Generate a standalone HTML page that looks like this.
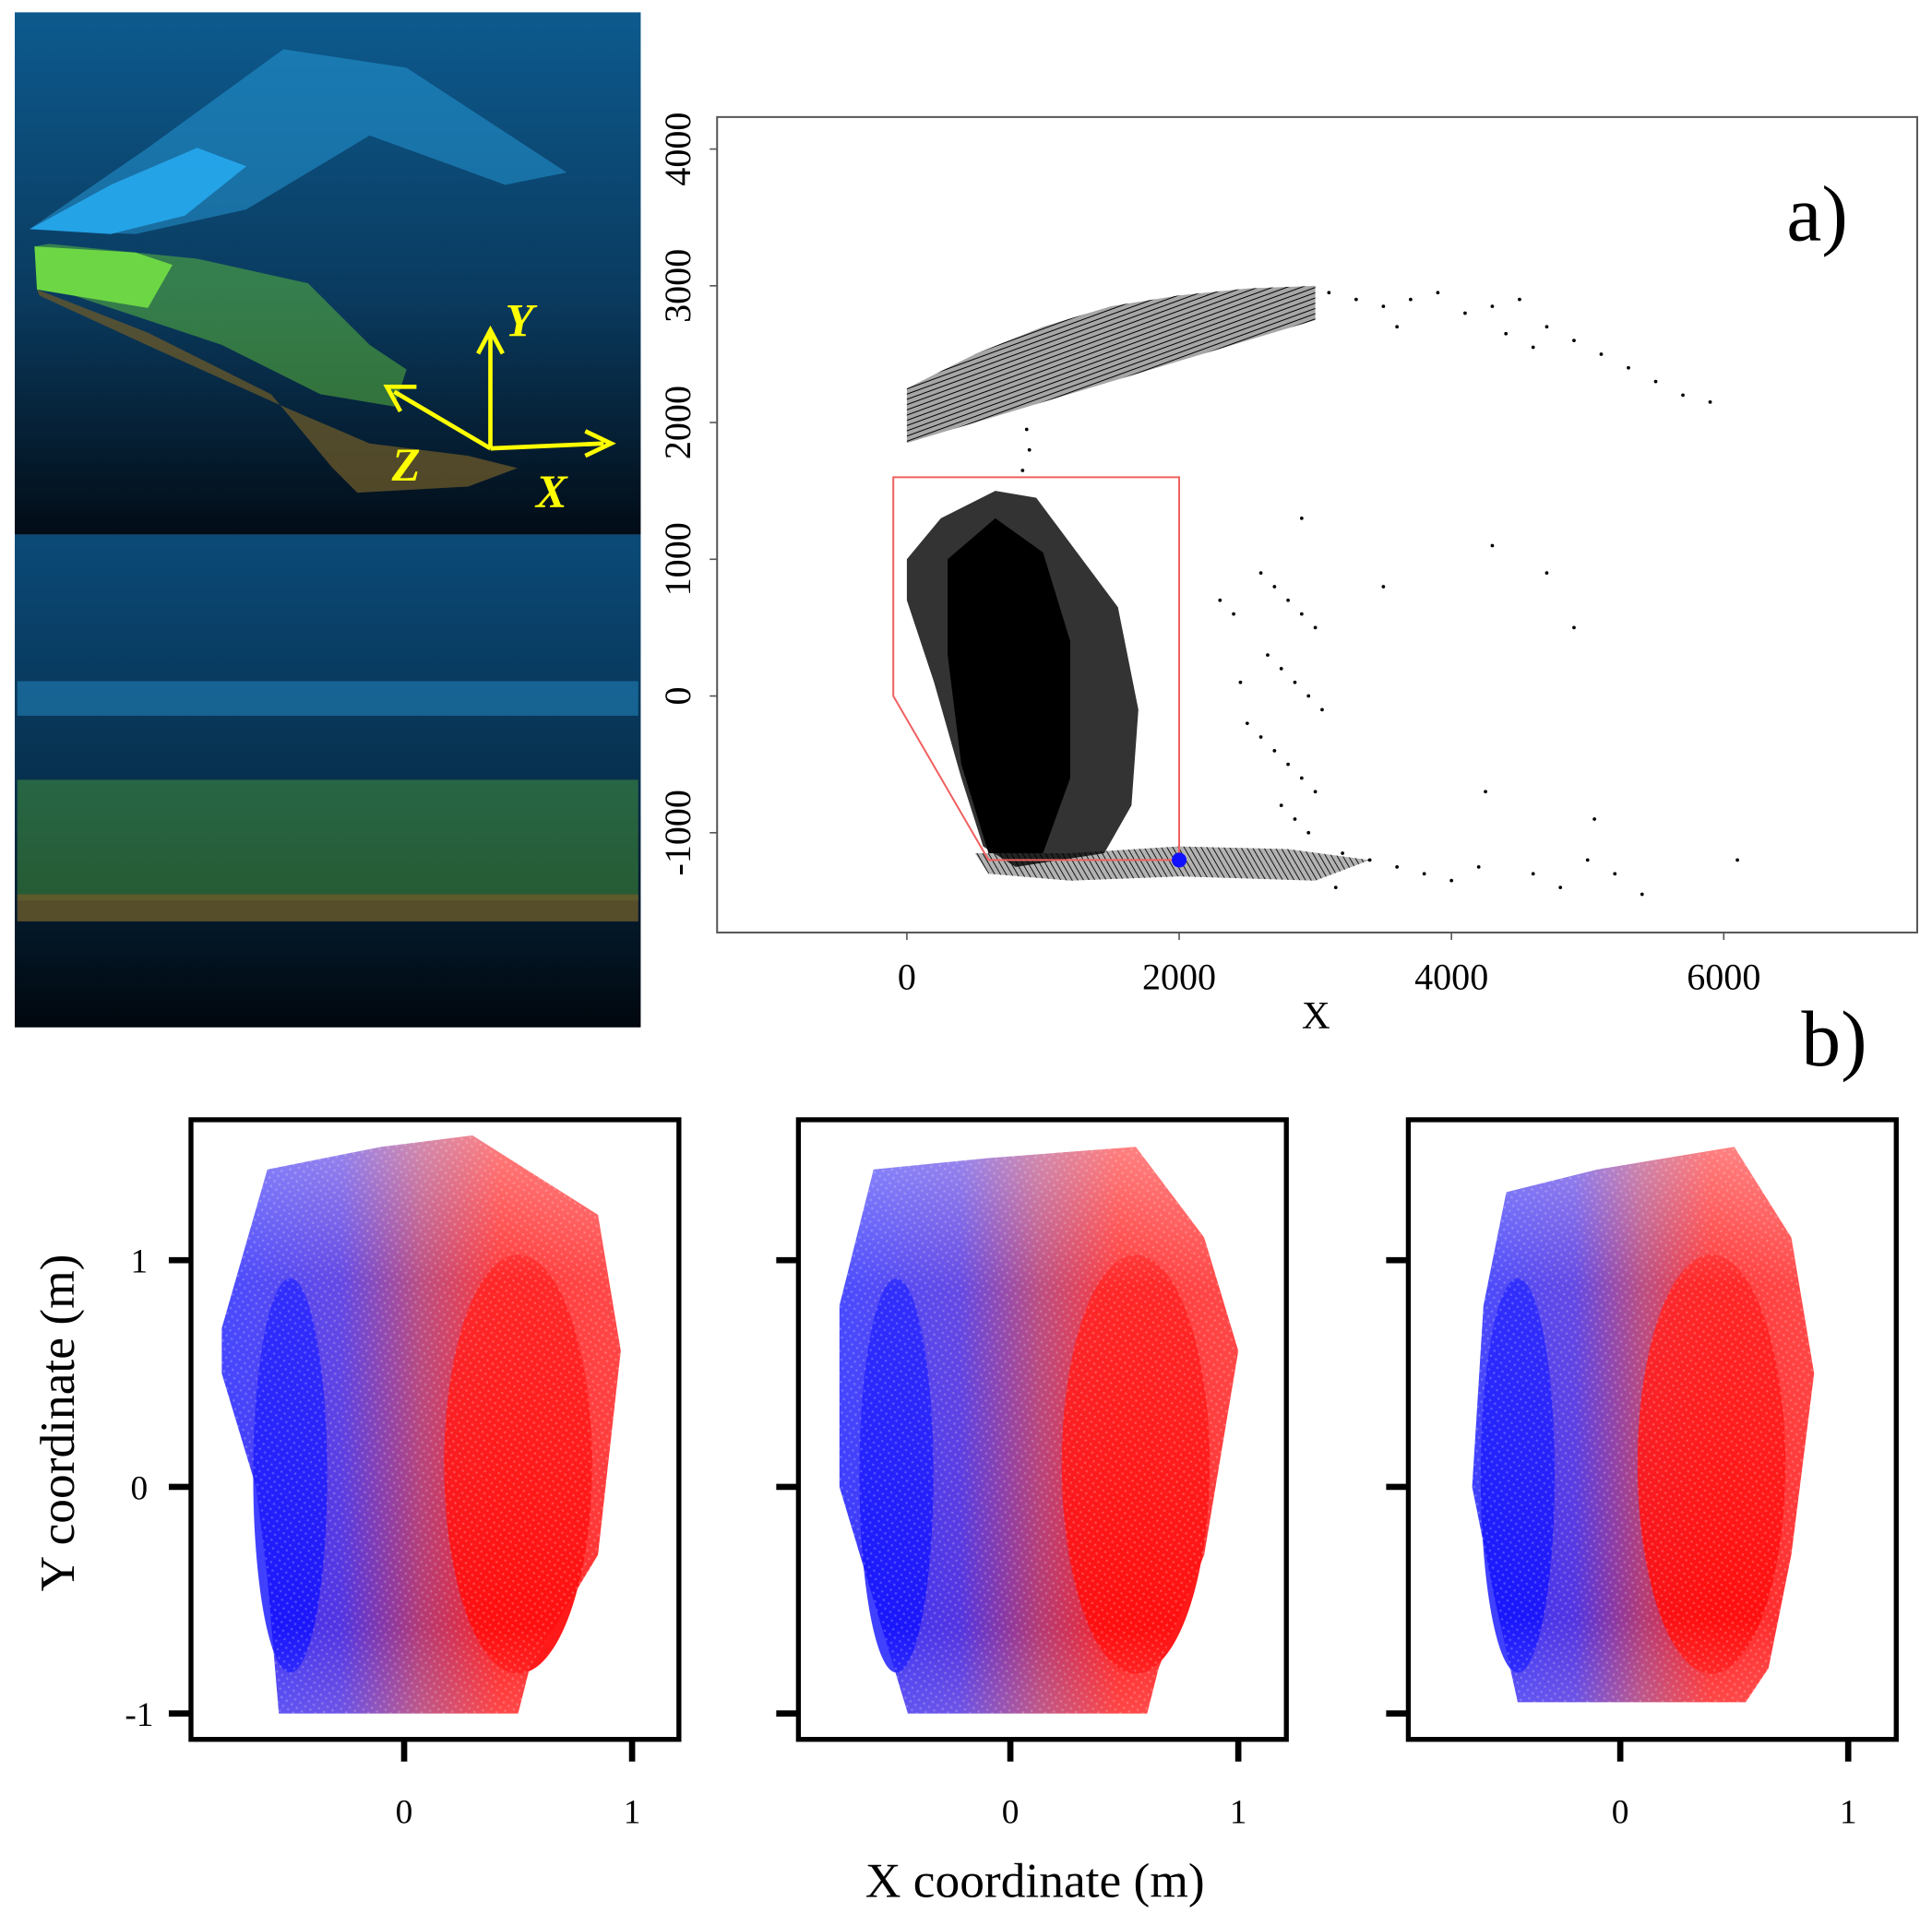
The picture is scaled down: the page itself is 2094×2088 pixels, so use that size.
<!DOCTYPE html>
<html><head><meta charset="utf-8">
<style>
html,body{margin:0;padding:0;background:#fff;}
svg{display:block;}
text{font-family:"Liberation Serif",serif;}
</style></head>
<body>
<svg id="fig" width="2094" height="2088" viewBox="0 0 1568 1563.5" preserveAspectRatio="none" xmlns="http://www.w3.org/2000/svg">
<defs>
  <linearGradient id="bgTop" x1="0" y1="0" x2="0" y2="1">
    <stop offset="0" stop-color="#0d5a8e"/><stop offset="0.55" stop-color="#0a3a5e"/><stop offset="1" stop-color="#020c16"/>
  </linearGradient>
  <linearGradient id="bgBot" x1="0" y1="0" x2="0" y2="1">
    <stop offset="0" stop-color="#0b4a78"/><stop offset="0.5" stop-color="#07304e"/><stop offset="1" stop-color="#01070e"/>
  </linearGradient>
  <linearGradient id="cloudGrad" x1="0" y1="0" x2="1" y2="0">
    <stop offset="0" stop-color="#2a2cff"/><stop offset="0.3" stop-color="#4a2ae0"/>
    <stop offset="0.5" stop-color="#b0306e"/><stop offset="0.7" stop-color="#ff1818"/><stop offset="1" stop-color="#ff2a2a"/>
  </linearGradient>
  <linearGradient id="fadeTop" x1="0" y1="0" x2="0" y2="1">
    <stop offset="0" stop-color="#fff" stop-opacity="0.45"/><stop offset="0.25" stop-color="#fff" stop-opacity="0.15"/>
    <stop offset="0.85" stop-color="#fff" stop-opacity="0.05"/><stop offset="1" stop-color="#fff" stop-opacity="0.2"/>
  </linearGradient>
  <pattern id="dots" width="5" height="5" patternUnits="userSpaceOnUse" patternTransform="rotate(35)">
    <circle cx="2.5" cy="2.5" r="1.0" fill="#fff" fill-opacity="0.22"/>
  </pattern>
  <pattern id="hatch" width="4" height="4" patternUnits="userSpaceOnUse" patternTransform="rotate(70)">
    <line x1="0" y1="0" x2="0" y2="4" stroke="#000" stroke-width="1.5"/>
  </pattern>
  <pattern id="hatchB" width="4" height="4" patternUnits="userSpaceOnUse" patternTransform="rotate(-30)">
    <line x1="0" y1="0" x2="0" y2="4" stroke="#000" stroke-width="1.3"/>
  </pattern>
</defs>

<g>
  <rect x="12" y="10" width="508" height="424" fill="url(#bgTop)"/>
  <polygon points="24,186 120,120 230,40 330,55 460,140 410,150 300,110 200,170 110,190" fill="#2aa7e6" opacity="0.45"/>
  <polygon points="24,186 90,150 160,120 200,135 150,175 90,190" fill="#27a8ee" opacity="0.9"/>
  <polygon points="28,200 40,198 160,210 250,230 300,280 330,300 320,330 260,320 180,280 90,250 30,230" fill="#5fc03a" opacity="0.5"/>
  <polygon points="28,200 110,205 140,215 120,250 30,235" fill="#6dd645"/>
  <polygon points="30,235 120,270 220,320 270,380 290,400 380,395 420,380 380,370 300,360 230,330 130,285 32,240" fill="#6b5a2a" opacity="0.75"/>
  <g stroke="#ffff00" stroke-width="3.5" fill="none">
    <line x1="398" y1="364" x2="398" y2="272"/><polyline points="388,287 398,268 408,287"/>
    <line x1="398" y1="364" x2="490" y2="360"/><polyline points="475,350 496,360 475,370"/>
    <line x1="398" y1="364" x2="320" y2="318"/><polyline points="338,314 314,314 325,334"/>
  </g>
  <text x="410" y="273" font-size="38" font-style="italic" font-weight="bold" fill="#ffff00">Y</text>
  <text x="318" y="390" font-size="38" font-style="italic" font-weight="bold" fill="#ffff00">Z</text>
  <text x="435" y="412" font-size="38" font-style="italic" font-weight="bold" fill="#ffff00">X</text>
</g>
<g>
  <rect x="12" y="434" width="508" height="400" fill="url(#bgBot)"/>
  <rect x="14" y="553" width="504" height="28" fill="#2a9ad8" opacity="0.45"/>
  <rect x="14" y="633" width="504" height="98" fill="#4fa83a" opacity="0.45"/>
  <rect x="14" y="726" width="504" height="22" fill="#6b5a2a" opacity="0.8"/>
</g>

<g id="plotA"></g>
<g id="plotB"></g>

<text x="1450" y="195" font-size="64">a)</text>
<text x="1462" y="865" font-size="64">b)</text>
<text transform="translate(60,1155) rotate(-90)" text-anchor="middle" font-size="40">Y coordinate (m)</text>
<text x="840" y="1540" text-anchor="middle" font-size="40">X coordinate (m)</text>
</svg>

<script>
const NS = "http://www.w3.org/2000/svg";
function mk(tag, attrs, parent){ const e=document.createElementNS(NS,tag); for(const k in attrs) e.setAttribute(k,attrs[k]); parent.appendChild(e); return e; }

// ---------- Plot a data ----------
const aXTicks = [0, 2000, 4000, 6000];
const aYTicks = [4000, 3000, 2000, 1000, 0, -1000];
const aCoreCloud = [[0,1000],[250,1300],[650,1500],[950,1450],[1250,1050],[1550,650],[1700,-100],[1650,-800],[1450,-1150],[800,-1250],[560,-1100],[400,-600],[200,100],[0,700]];
const aDenseCore = [[300,1000],[650,1300],[1000,1050],[1200,400],[1200,-600],[1000,-1150],[600,-1150],[400,-500],[300,300]];
const aArcBand = [[0,2250],[500,2500],[1000,2700],[1500,2850],[2000,2930],[2500,2980],[3000,3000],[3000,2750],[2500,2600],[2000,2450],[1500,2300],[1000,2150],[500,2000],[0,1850]];
const aBottomBand = [[500,-1150],[1200,-1150],[2000,-1100],[2800,-1120],[3400,-1200],[3000,-1350],[2000,-1320],[1200,-1350],[600,-1300]];
const aSelection = [[-100,1600],[2000,1600],[2000,-1200],[600,-1200],[-100,0]];
const aSparseX = [3100,3300,3500,3700,3900,4100,4300,4500,4700,4900,5100,5300,5500,5700,5900,4400,4600,3600,2600,2700,2800,2900,3000,2650,2750,2850,2950,3050,2600,2700,2800,2900,3000,2750,2850,2950,2300,2400,3200,3400,3600,3800,4000,4200,4600,4800,5000,5200,6100,4300,4700,4900,3500,2500,2450,2900,3150,4250,5050,5400,900,850,880];
const aSparseY = [2950,2900,2850,2900,2950,2800,2850,2900,2700,2600,2500,2400,2300,2200,2150,2650,2550,2700,900,800,700,600,500,300,200,100,0,-100,-300,-400,-500,-600,-700,-800,-900,-1000,700,600,-1150,-1200,-1250,-1300,-1350,-1250,-1300,-1400,-1200,-1300,-1200,1100,900,500,800,-200,100,1300,-1400,-700,-900,-1450,1800,1650,1950];

const ax = v => 736 + v*0.1105;
const ay = v => 565 - v*0.1110;
const gA = document.getElementById('plotA');
const pts = arr => arr.map(p=>ax(p[0]).toFixed(1)+','+ay(p[1]).toFixed(1)).join(' ');

let e;
e = mk('rect',{x:582,y:95,width:974,height:662,fill:'none',stroke:'#555','stroke-width':1.5},gA);


aYTicks.forEach(t=>{
  const y=ay(t);
  e=mk('line',{x1:576,x2:582,y1:y,y2:y,stroke:'#555','stroke-width':1.2},gA);
  
  
  e=mk('text',{transform:`translate(560,${y}) rotate(-90)`,'text-anchor':'middle','font-size':30},gA);
  e.textContent=t;
  
  
});
aXTicks.forEach(t=>{
  const x=ax(t);
  e=mk('line',{x1:x,x2:x,y1:757,y2:763,stroke:'#555','stroke-width':1.2},gA);
  
  
  e=mk('text',{x:x,y:803,'text-anchor':'middle','font-size':30},gA);
  e.textContent=t;
  
  
});
e=mk('text',{x:1068,y:835,'text-anchor':'middle','font-size':32},gA);
e.textContent='X';



e=mk('polygon',{points:pts(aArcBand),fill:'#000','fill-opacity':0.35},gA);


e=mk('polygon',{points:pts(aArcBand),fill:'url(#hatch)'},gA);


e=mk('polygon',{points:pts(aBottomBand),fill:'#000','fill-opacity':0.3},gA);


e=mk('polygon',{points:pts(aBottomBand),fill:'url(#hatchB)'},gA);


e=mk('polygon',{points:pts(aCoreCloud),fill:'#000','fill-opacity':0.8},gA);


e=mk('polygon',{points:pts(aDenseCore),fill:'#000'},gA);


aSparseX.forEach((x,i)=>{
  e=mk('circle',{cx:ax(x),cy:ay(aSparseY[i]),r:1.4,fill:'#000'},gA);
  
  
});
e=mk('polygon',{points:pts(aSelection),fill:'none',stroke:'#f06060','stroke-width':1.5},gA);


e=mk('circle',{cx:ax(2000),cy:ay(-1200),r:6,fill:'#1010ff'},gA);



// ---------- Plot b data ----------
const bXTicks = [0, 1];
const bYTicks = [1, 0, -1];
const bPanelLeft = [155, 648, 1143];
const bPanelZero = [328, 820, 1315];
const bCloud1 = [[-0.8,0.7],[-0.6,1.4],[-0.1,1.5],[0.3,1.55],[0.85,1.2],[0.95,0.6],[0.85,-0.3],[0.55,-0.8],[0.5,-1.0],[-0.55,-1.0],[-0.6,-0.4],[-0.65,0.0],[-0.8,0.5]];
const bCloud2 = [[-0.75,0.8],[-0.6,1.4],[-0.1,1.45],[0.55,1.5],[0.85,1.1],[1.0,0.6],[0.85,-0.3],[0.65,-0.8],[0.6,-1.0],[-0.45,-1.0],[-0.6,-0.5],[-0.75,0.0]];
const bCloud3 = [[-0.6,0.8],[-0.5,1.3],[-0.1,1.4],[0.5,1.5],[0.75,1.1],[0.85,0.5],[0.75,-0.3],[0.65,-0.8],[0.55,-0.95],[-0.45,-0.95],[-0.55,-0.5],[-0.65,0.0]];
const bClouds = [bCloud1, bCloud2, bCloud3];
const bRedCoreX = [0.5, 0.55, 0.4];
const bBlueCoreX = [-0.5, -0.5, -0.45];

const by = v => 1207 - v*184;
const gB = document.getElementById('plotB');
bPanelLeft.forEach((L,i)=>{
  const bx = v => bPanelZero[i] + v*185;
  const p = bClouds[i].map(q=>bx(q[0]).toFixed(1)+','+by(q[1]).toFixed(1)).join(' ');
  e=mk('polygon',{points:p,fill:'url(#cloudGrad)'},gB);
  
  
  e=mk('ellipse',{cx:bx(bRedCoreX[i]),cy:by(0.1),rx:60,ry:170,fill:'#ff0000','fill-opacity':0.9},gB);
  
  
  e=mk('ellipse',{cx:bx(bBlueCoreX[i]),cy:by(0.05),rx:30,ry:160,fill:'#0000ff','fill-opacity':0.75},gB);
  
  
  e=mk('polygon',{points:p,fill:'url(#fadeTop)'},gB);
  
  
  e=mk('polygon',{points:p,fill:'url(#dots)'},gB);
  
  
  e=mk('rect',{x:L,y:909,width:396,height:503,fill:'none',stroke:'#000','stroke-width':4},gB);
  
  
  bYTicks.forEach(t=>{
    e=mk('line',{x1:L-18,x2:L,y1:by(t),y2:by(t),stroke:'#000','stroke-width':5},gB);
    
    
    if(i===0){
      e=mk('text',{x:L-42,y:by(t)+10,'text-anchor':'middle','font-size':28},gB);
      e.textContent=t;
      
      
    }
  });
  bXTicks.forEach(t=>{
    e=mk('line',{x1:bx(t),x2:bx(t),y1:1412,y2:1430,stroke:'#000','stroke-width':5},gB);
    
    
    e=mk('text',{x:bx(t),y:1480,'text-anchor':'middle','font-size':28},gB);
    e.textContent=t;
    
    
  });
});
</script>
</body></html>
